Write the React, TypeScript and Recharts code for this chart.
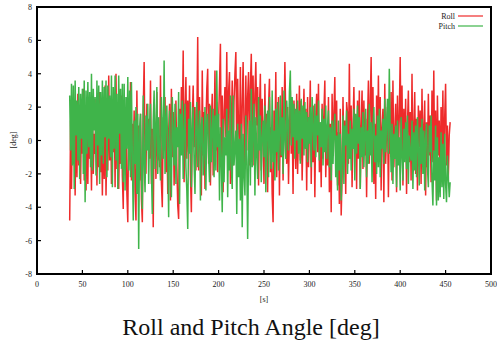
import { LineChart, Line, XAxis, YAxis, ReferenceArea } from 'recharts';

// one sample per second starting at t = 36 s
const T_START = 36;
const T_STEP = 1;

const ROLL = [
  -4.8, 1.2, -2.9, 2.1, -1.4, 0.8, -3.3, 1.9, -2.2, 2.8,
  -1.5, 0.3, -2.6, 1.6, -0.8, 3.1, -2.4, 0.6, -3.0, 1.4,
  -2.6, 2.2, -1.1, 0.9, -3.0, 1.8, -2.0, 0.4, -0.8, 2.5,
  -2.7, 1.2, -1.6, 2.9, -1.9, 0.7, -3.3, 1.5, -2.3, 3.3,
  -3.3, 0.4, -1.8, 3.9, -1.2, 2.0, -2.6, 1.5, -0.7, 2.4,
  -2.8, 4.0, -1.7, 1.1, -2.9, 0.6, -1.4, 2.7, -2.1, -4.1,
  2.4, -1.6, 1.3, -3.2, -4.9, 2.2, -0.6, 3.5, -2.4, 1.0,
  -1.3, 1.8, -3.1, -4.8, 3.0, -1.8, 0.9, -2.4, 1.6, -3.5,
  -4.9, 1.8, 4.7, -1.4, -2.0, 2.2, -0.5, 1.3, -1.1, 3.6,
  -2.6, 0.7, -5.2, 1.4, 0.8, -2.3, 2.9, -1.2, 0.3, -1.6,
  3.9, -2.5, -4.0, 1.4, -0.6, 2.6, -1.9, 0.9, -3.2, 0.5,
  2.2, -3.6, 3.1, -1.0, 1.7, -2.7, 0.6, 2.4, -1.5, -3.9,
  -4.7, 1.9, -0.8, 3.2, 0.4, 5.4, -2.5, 1.6, 3.8, -1.1,
  2.4, -0.7, 3.3, -2.0, -4.3, 1.2, 3.3, -0.4, 2.0, -1.8,
  0.9, 6.2, -1.8, 2.6, -0.5, -3.3, 4.2, -0.9, 1.7, -2.9,
  0.8, 3.1, 4.3, -1.4, 2.2, -2.7, 1.0, 2.8, -2.1, 0.5,
  4.2, -0.6, 2.3, -1.9, 1.1, 3.4, 5.8, -1.4, 2.7, -3.1,
  1.8, 3.2, 0.2, 5.3, -1.0, 2.9, 4.1, -2.6, 0.8, 3.6,
  -1.5, 2.4, 4.0, 5.3, -1.2, 3.7, 0.6, -0.3, 4.4, -2.4,
  2.0, 4.7, 0.9, -1.7, 3.9, -0.6, 2.6, 4.1, -1.5, 3.2,
  5.2, 0.6, 3.9, -1.5, 2.8, 4.7, 0.9, 3.2, -2.7, 1.8,
  4.0, -1.8, 2.5, 0.3, -2.6, 3.4, -0.9, 1.6, -3.1, 2.0,
  3.7, -1.9, 0.8, -3.2, -4.9, 1.8, -0.6, 4.1, -2.2, 0.7,
  2.6, -3.3, 1.4, -1.0, 3.2, -2.4, 0.9, 4.7, 1.2, -1.4,
  2.0, -2.6, 0.5, 3.0, -0.8, 1.5, -3.2, 2.4, 0.1, -1.7,
  2.8, -2.0, 0.6, 3.3, -1.2, 2.4, -2.4, 0.4, 3.1, -0.5,
  1.9, -3.0, 2.6, -1.6, 0.8, 3.6, -2.6, 0.9, -1.3, 2.1,
  -3.4, 1.3, 2.8, -0.7, 3.4, -1.9, 0.6, -2.8, 2.2, -1.1,
  1.7, 3.6, -2.2, 0.4, -1.5, 2.6, -3.1, 1.0, -4.3, 2.8,
  -0.9, 1.6, 3.8, -1.0, 2.4, -2.7, 0.5, -3.8, 1.9, -4.5,
  -2.2, 2.6, -0.8, 1.2, -3.2, 2.3, 1.6, -1.4, 4.6, -1.1,
  2.1, -2.8, 0.7, 3.2, -0.4, 1.5, -2.9, 2.4, -1.1, 3.0,
  -2.9, 0.8, 3.0, -1.7, 2.4, -0.9, 1.3, -3.4, 1.2, 3.6,
  -1.4, 2.2, 5.0, -0.9, 3.2, -2.6, 1.0, -3.5, 2.7, -0.6,
  3.9, -1.2, 2.6, -3.0, 0.8, 1.9, -3.7, 3.4, -1.4, 0.6,
  2.0, -3.4, 1.2, -0.8, 2.9, -2.4, 3.6, -1.6, 0.4, 2.2,
  -3.1, 2.7, -1.0, 1.5, 5.0, -0.8, 3.3, -2.7, 1.9, -0.6,
  2.5, -3.2, 0.9, 3.0, -1.3, 1.7, -2.4, 4.0, -1.9, 0.7,
  2.9, -2.0, 1.3, -3.0, 2.1, -0.4, 1.8, -2.6, 3.1, -1.0,
  0.6, 2.4, -3.3, 1.1, -1.6, 2.8, -0.9, 1.5, -2.5, 3.0,
  -1.3, 4.2, -2.0, 1.8, -3.6, 2.7, -0.9, 1.2, -2.8, 2.0,
  -1.5, 3.0, -2.1, 1.4, 3.4, -1.5, 0.9, -2.3, 0.3, 1.1,
];

const PITCH = [
  2.7, -0.6, 3.4, -1.5, 3.3, -2.9, 3.6, 0.3, 2.4, -1.2,
  3.2, -2.3, 2.8, 0.1, 3.1, -2.0, 3.6, -3.7, 3.0, -0.8,
  3.5, -0.4, 2.9, -1.6, 4.0, -1.8, 3.1, 0.6, 2.6, -2.1,
  3.6, -0.3, 3.3, -2.6, 2.9, -0.9, 3.6, -1.4, 3.2, 0.2,
  3.6, -2.2, 3.3, 0.1, 2.7, -1.0, 3.9, -2.8, 3.2, -0.5,
  3.9, -1.2, 2.8, -2.9, 3.9, 0.4, 3.1, -1.7, 3.4, -2.5,
  3.4, -3.0, 2.6, -0.5, 3.8, -1.8, 3.0, -2.2, 3.5, -0.9,
  -4.8, 1.2, -1.4, 2.0, -3.2, 1.6, -6.5, 0.7, 1.6, -2.4,
  -4.1, 2.7, -1.3, -3.1, 1.5, -0.6, 2.2, -2.6, 0.9, 2.2,
  -1.8, -4.4, 1.2, 3.0, -1.7, 0.8, 3.2, -2.0, 1.4, -0.7,
  -2.4, 2.6, 0.6, -1.1, 4.8, -2.0, 1.3, 2.1, -0.8, -4.6,
  1.8, -1.2, -3.4, 2.6, 0.3, -1.5, 2.2, -2.6, 0.8, -0.4,
  2.9, -3.8, 1.6, -0.9, 2.4, -2.3, 0.5, 2.2, -1.6, -3.0,
  -5.3, 1.3, -0.8, 2.3, -2.8, 0.7, 2.0, -1.4, -3.2, 1.1,
  2.3, -1.6, 0.4, 1.8, -3.6, 0.9, 1.4, -2.1, -0.6, 2.0,
  -3.0, 1.2, 1.6, -0.9, -2.5, 2.1, -1.3, 0.6, 1.9, -2.2,
  1.5, -1.8, 4.2, -0.4, 1.6, -3.6, 0.8, -1.2, -4.3, 1.3,
  -2.5, 0.2, -0.9, 1.9, -3.4, 0.6, -1.8, 2.7, -1.5, -2.9,
  2.7, -1.5, -0.4, 0.6, -4.4, 1.0, -2.2, 0.1, -3.6, 1.0,
  -5.2, 0.4, -2.0, -3.3, 1.5, -1.2, -5.9, -0.5, 1.2, -2.7,
  3.1, -1.6, 0.5, 2.2, -3.3, 1.4, -0.8, -2.3, 2.6, -0.6,
  1.5, -2.5, 0.2, 1.2, -1.0, 2.1, -3.1, 0.9, 1.8, -2.2,
  2.6, -0.4, -1.7, 3.0, -1.3, 0.6, -2.4, 1.9, -0.7, 2.3,
  -1.8, 0.5, 2.7, -0.9, 1.4, -2.0, 3.0, 0.1, -1.1, 2.4,
  1.0, -0.6, 2.9, 4.2, -0.3, 2.6, 0.2, 2.2, -1.1, 1.9,
  0.0, 2.4, -0.8, 1.8, -1.4, 2.5, 0.1, 2.1, -0.9, 2.3,
  -0.5, 1.7, -1.3, 1.4, -0.2, 2.0, -1.6, 2.6, 0.8, -0.6,
  2.2, -1.0, 1.5, 0.3, 2.4, -1.2, 1.1, -0.4, 1.9, -1.5,
  1.3, -0.7, 2.1, -1.1, 0.9, 1.8, -1.6, 0.8, -2.4, 1.2,
  -1.4, 0.6, 1.6, -2.2, 0.3, -3.0, 1.2, -1.8, 0.4, -3.6,
  -1.2, 1.5, -2.6, 0.9, -0.3, 1.8, -2.0, 0.4, -1.1, 1.2,
  -1.8, 0.7, -0.5, 1.9, -2.4, 1.6, -0.8, 2.1, -0.2, 1.4,
  -2.9, 0.8, -1.0, 1.7, -1.6, 0.4, 1.9, -2.2, 0.6, -1.4,
  2.2, -0.9, 1.1, -2.5, 0.7, 2.0, -1.3, 0.3, -2.0, 1.5,
  -1.6, 1.9, -2.2, 0.6, -0.5, 1.3, -1.4, 2.5, -0.7, 1.0,
  2.5, -0.8, 4.3, 0.6, -1.9, 1.0, -2.6, 0.4, -1.1, 0.9,
  -2.8, 1.2, -1.5, 0.2, -3.0, 1.4, -0.9, -2.4, 0.7, -1.3,
  1.1, -1.7, 1.5, -2.6, 0.3, -0.8, -1.2, 1.2, -2.9, 0.5,
  -1.8, 0.9, -2.2, 1.4, -0.5, -2.7, 0.8, -1.4, 1.3, -2.0,
  0.6, -3.0, 0.2, 1.0, -1.6, -2.8, 0.9, -0.7, 1.5, -2.3,
  -3.9, -0.6, -2.4, 0.9, -3.9, 0.2, -3.6, -1.0, -3.4, 0.5,
  -2.8, -0.2, -3.5, 0.4, -2.6, -3.7, -0.9, -2.2, -3.4, -2.5,
];

const X_TICKS = [0, 50, 100, 150, 200, 250, 300, 350, 400, 450, 500];
const Y_TICKS = [-8, -6, -4, -2, 0, 2, 4, 6, 8];

const SERIES = [
  { key: 'roll', name: 'Roll', color: '#ee2b2b' },
  { key: 'pitch', name: 'Pitch', color: '#3fb44a' },
];

const SERIF = '"Liberation Serif", "DejaVu Serif", serif';
const INK = '#000';

const data = ROLL.map((roll, i) => ({
  t: T_START + i * T_STEP,
  roll,
  pitch: PITCH[i],
}));

function XTick({ x, y, payload }: any) {
  return (
    <text x={x} y={y} dy={6} textAnchor="middle" fontSize={8} fill="#222" fontFamily={SERIF}>
      {payload.value}
    </text>
  );
}

function YTick({ x, y, payload }: any) {
  return (
    <text x={x} y={y} dy={3} textAnchor="end" fontSize={8} fill="#222" fontFamily={SERIF}>
      {payload.value}
    </text>
  );
}

const axisLine = { stroke: INK, strokeWidth: 2 };
const tickLine = { stroke: INK, strokeWidth: 1.2 };

export default function App() {
  return (
    <div style={{ position: 'absolute', left: 0, top: 0, width: 497, height: 344, background: '#fff' }}>
      <LineChart width={497} height={344} data={data} margin={{ top: 7, right: 6, left: 0, bottom: 0 }}>
        <XAxis
          xAxisId="b"
          dataKey="t"
          type="number"
          domain={[0, 500]}
          ticks={X_TICKS}
          interval={0}
          height={70}
          tickSize={-4}
          tickMargin={11}
          tick={XTick}
          axisLine={axisLine}
          tickLine={tickLine}
        />
        <XAxis
          xAxisId="top"
          orientation="top"
          dataKey="t"
          type="number"
          domain={[0, 500]}
          ticks={X_TICKS}
          interval={0}
          height={0}
          tickSize={-4}
          tick={false}
          axisLine={axisLine}
          tickLine={tickLine}
        />
        <YAxis
          yAxisId="l"
          type="number"
          domain={[-8, 8]}
          ticks={Y_TICKS}
          interval={0}
          width={37}
          tickSize={-4}
          tickMargin={9}
          tick={YTick}
          axisLine={axisLine}
          tickLine={tickLine}
        />
        <YAxis
          yAxisId="r"
          orientation="right"
          type="number"
          domain={[-8, 8]}
          ticks={Y_TICKS}
          interval={0}
          width={0}
          tickSize={-4}
          tick={false}
          axisLine={axisLine}
          tickLine={tickLine}
        />
        {SERIES.map((s) => (
          <Line
            key={s.key}
            xAxisId="b"
            yAxisId="l"
            name={s.name}
            dataKey={s.key}
            stroke={s.color}
            strokeWidth={1.5}
            dot={false}
            isAnimationActive={false}
          />
        ))}
        <ReferenceArea
          xAxisId="b"
          yAxisId="l"
          x1={0}
          x2={500}
          y1={-8}
          y2={8}
          fill="none"
          stroke={INK}
          strokeWidth={2}
          strokeOpacity={1}
          ifOverflow="visible"
        />
      </LineChart>
      <svg
        width={497}
        height={344}
        style={{ position: 'absolute', left: 0, top: 0, pointerEvents: 'none' }}
      >
        {SERIES.map((s, i) => (
          <g key={s.key}>
            <text
              x={455}
              y={19 + i * 10}
              textAnchor="end"
              fontSize={8}
              fill="#222"
              fontFamily={SERIF}
            >
              {s.name}
            </text>
            <line x1={458} x2={483} y1={16 + i * 10} y2={16 + i * 10} stroke={s.color} strokeWidth={1.2} />
          </g>
        ))}
        <text x={264} y={302} textAnchor="middle" fontSize={8} fill="#222" fontFamily={SERIF}>
          [s]
        </text>
        <text
          x={16}
          y={140}
          textAnchor="middle"
          fontSize={8}
          fill="#222"
          fontFamily={SERIF}
          transform="rotate(-90 16 140)"
        >
          [deg]
        </text>
        <text x={251} y={335} textAnchor="middle" fontSize={24} fill="#111" fontFamily={SERIF}>
          Roll and Pitch Angle [deg]
        </text>
      </svg>
    </div>
  );
}
